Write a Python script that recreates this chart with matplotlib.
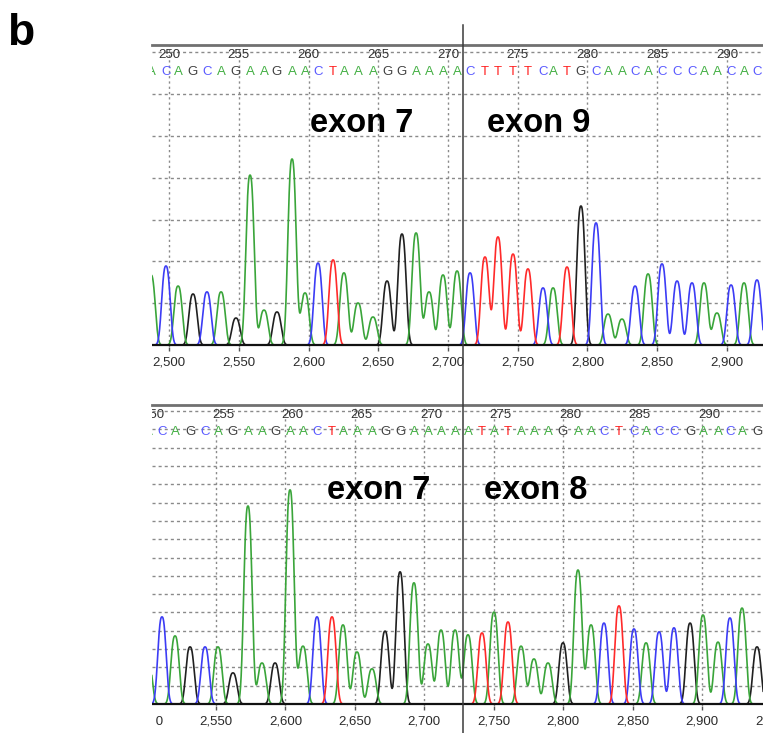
import numpy as np
import matplotlib
matplotlib.use("Agg")
import matplotlib.pyplot as plt
from matplotlib.lines import Line2D
from matplotlib.transforms import Bbox, ScaledTranslation

plt.rcParams["font.family"] = ["Liberation Sans", "DejaVu Sans"]

# ---------------- data ----------------
# upper trace: exon 7 joined to exon 9
top_bases = "ACAGCAGAAGAACTAAAGGAAAACTTTTCATGCAACACCCAACAC"
top_peak_scan = [2487.1, 2497.8, 2506.5, 2517.2, 2527.2, 2537.3, 2548.0, 2558.1, 2568.1,
                 2577.4, 2588.2, 2597.5, 2606.8, 2617.6, 2625.4, 2635.5, 2646.2, 2656.3,
                 2667.0, 2677.1, 2686.4, 2696.4, 2706.5, 2715.8, 2726.5, 2735.8, 2746.6,
                 2757.3, 2768.1, 2775.3, 2785.3, 2795.3, 2806.1, 2814.7, 2824.7, 2834.1,
                 2843.4, 2853.4, 2864.2, 2874.9, 2883.5, 2892.8, 2902.9, 2912.2, 2921.5]
top_peak_height = [335, 378, 282, 244, 254, 254, 129, 813, 167, 158, 890, 249, 392, 407,
                   345, 201, 134, 306, 531, 536, 254, 335, 354, 345, 421, 517, 435, 364,
                   273, 273, 373, 665, 584, 148, 124, 282, 340, 388, 306, 297, 297, 153,
                   287, 297, 311]

# lower trace: exon 7 joined to exon 8
bottom_bases = "ACAGCAGAAGAACTAAAGGAAAAATATAAAGAACTCACCGAACAG"
bottom_peak_scan = [2501.0, 2511.1, 2520.5, 2531.3, 2542.1, 2551.4, 2562.2, 2573.0, 2583.1,
                    2592.5, 2603.3, 2612.6, 2622.7, 2633.5, 2641.4, 2651.5, 2662.3, 2671.7,
                    2682.5, 2692.5, 2702.6, 2712.0, 2722.1, 2731.4, 2741.5, 2750.1, 2760.2,
                    2769.6, 2778.9, 2789.0, 2799.8, 2810.6, 2820.0, 2829.3, 2840.1, 2850.9,
                    2859.6, 2869.0, 2879.7, 2891.3, 2900.6, 2911.4, 2920.0, 2928.7, 2939.5]
bottom_peak_height = [123, 238, 186, 156, 156, 156, 85, 541, 112, 112, 585, 158, 238, 238,
                      216, 142, 96, 199, 361, 331, 164, 202, 202, 189, 194, 251, 224, 158,
                      123, 112, 167, 366, 216, 221, 268, 205, 167, 197, 208, 221, 243, 169,
                      235, 262, 156]

base_numbers = [250, 255, 260, 265, 270, 275, 280, 285, 290]
top_base_scan0 = 2500      # scan position of base 250, upper trace
bottom_base_scan0 = 2505   # scan position of base 250, lower trace
scan_ticks = [2500, 2550, 2600, 2650, 2700, 2750, 2800, 2850, 2900, 2950]
top_exons = ["exon 7", "exon 9"]
bottom_exons = ["exon 7", "exon 8"]

# ---------------- style ----------------
W, H = 763, 733
trace_colors = {"A": "#3aa53a", "C": "#3c3cf5", "G": "#202020", "T": "#ff2a2a"}
letter_colors = {"A": "#45b045", "C": "#5a5aff", "G": "#404040", "T": "#ff2020"}
PEAK_WIDTH = 2.9   # peak width parameter, scan units
PEAK_POWER = 2.6   # peak shape exponent

fig = plt.figure(figsize=(W / 100, H / 100), dpi=100)


def px_axes(x0, y0, x1, y1):
    return fig.add_axes([x0 / W, 1 - y1 / H, (x1 - x0) / W, (y1 - y0) / H])


def peak(x, centre, height):
    return height * np.exp(-0.5 * np.abs((x - centre) / PEAK_WIDTH) ** PEAK_POWER)


def draw_panel(ax, xlim, ylim, grid_step, bases, scans, heights, base_scan0,
               num_frac, letter_frac, label_clip_left):
    ax.set_xlim(*xlim)
    ax.set_ylim(*ylim)
    for s in ["left", "right", "bottom"]:
        ax.spines[s].set_visible(False)
    ax.spines["top"].set_color("#707070")
    ax.spines["top"].set_linewidth(2.0)

    in_range = [t for t in scan_ticks if xlim[0] <= t <= xlim[1]]
    ax.set_xticks(in_range)
    ax.set_xticklabels([f"{t:,}" for t in in_range])
    ax.set_yticks(np.arange(grid_step, ylim[1], grid_step))
    ax.tick_params(axis="y", left=False, labelleft=False)
    ax.tick_params(axis="x", length=3, width=1, color="#555555", pad=3.5,
                   labelsize=9.5, labelcolor="#2b2b2b")
    ax.grid(axis="x", color="#8a8a8a", linestyle=(0, (1.6, 2.2)), linewidth=1.0)
    ax.grid(axis="y", color="#8a8a8a", linestyle=(0, (2.2, 2.2)), linewidth=1.0)
    ax.set_axisbelow(True)

    # tick labels that fall partly outside the visible range
    clip = Bbox.from_extents(label_clip_left, 0, 763, H)
    off = ScaledTranslation(0, -6.5 / 72, fig.dpi_scale_trans)
    for t in scan_ticks:
        if t < xlim[0] or t > xlim[1]:
            txt = ax.text(t, 0, f"{t:,}", transform=ax.get_xaxis_transform() + off,
                          ha="center", va="top", fontsize=9.5, color="#2b2b2b")
            txt.set_clip_on(True)
            txt.set_clip_box(clip)

    # traces: one curve per dye channel
    x = np.linspace(xlim[0] - 10, xlim[1] + 10, 4000)
    scans = np.asarray(scans)
    heights = np.asarray(heights, dtype=float)
    for base in "GACT":
        sel = np.array([b == base for b in bases])
        y = np.zeros_like(x)
        for s, h in zip(scans[sel], heights[sel]):
            y += peak(x, s, h)
        ax.plot(x, y, color=trace_colors[base], lw=1.2, zorder=3)
    ax.axhline(0, color="#111111", lw=1.6, zorder=4)

    # base calls and numbering
    for b, s in zip(bases, scans):
        ax.text(s, letter_frac, b, transform=ax.get_xaxis_transform(), ha="center",
                va="center", fontsize=9.5, color=letter_colors[b], clip_on=True)
    for n in base_numbers:
        ax.text(base_scan0 + 10 * (n - 250), num_frac, str(n),
                transform=ax.get_xaxis_transform(), ha="center", va="center",
                fontsize=9.5, color="#333333", clip_on=True)


# upper panel: top border at y=45 px, baseline at y=345 px
ax1 = px_axes(152, 45, 763, 347)
u1 = 4.785
draw_panel(ax1, (2487.81, 2925.81), (-2 * u1, 300 * u1), 200,
           top_bases, top_peak_scan, top_peak_height, top_base_scan0,
           num_frac=(347 - 55) / 302, letter_frac=(347 - 71.5) / 302,
           label_clip_left=152)

# lower panel: top border at y=405 px, baseline at y=704 px
ax2 = px_axes(152, 405, 763, 706)
u2 = 2.732
draw_panel(ax2, (2503.92, 2943.81), (-2 * u2, 299 * u2), 50,
           bottom_bases, bottom_peak_scan, bottom_peak_height, bottom_base_scan0,
           num_frac=(706 - 415) / 301, letter_frac=(706 - 432) / 301,
           label_clip_left=155.5)

# exon labels
for label, xpx in zip(top_exons, [310, 487]):
    fig.text(xpx / W, 1 - 132 / H, label, fontsize=23.5, fontweight="bold",
             ha="left", va="baseline")
for label, xpx in zip(bottom_exons, [327, 484]):
    fig.text(xpx / W, 1 - 499 / H, label, fontsize=23.5, fontweight="bold",
             ha="left", va="baseline")

# exon junction marker running through both traces
fig.add_artist(Line2D([463 / W, 463 / W], [1 - 25 / H, 0], transform=fig.transFigure,
                      color="#3a3a3a", lw=1.1))

fig.text(7 / W, 1 - 45 / H, "b", fontsize=32, fontweight="bold", ha="left", va="baseline")

fig.savefig("out.png", dpi=100)
